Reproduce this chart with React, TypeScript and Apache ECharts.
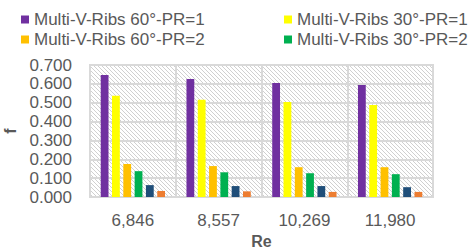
import React, { useEffect, useRef } from "react";
import * as echarts from "echarts";

const categories = ["6,846", "8,557", "10,269", "11,980"];
const seriesNames = [
  "Multi-V-Ribs 60°-PR=1",
  "Multi-V-Ribs 30°-PR=1",
  "Multi-V-Ribs 60°-PR=2",
  "Multi-V-Ribs 30°-PR=2",
  "Series 5",
  "Series 6",
];
const s1 = [0.647, 0.626, 0.605, 0.594];
const s2 = [0.537, 0.516, 0.504, 0.488];
const s3 = [0.175, 0.164, 0.158, 0.158];
const s4 = [0.137, 0.131, 0.126, 0.121];
const s5 = [0.063, 0.058, 0.058, 0.052];
const s6 = [0.032, 0.030, 0.027, 0.027];
const colors = ["#7030a0", "#ffff00", "#ffc000", "#00b050", "#1f4e79", "#ed7d31"];
const yTicks = { min: 0, max: 0.7, interval: 0.1 };

export default function App() {
  const ref = useRef<HTMLDivElement>(null);
  useEffect(() => {
    if (!ref.current) return;
    const chart = echarts.init(ref.current, null, { renderer: "svg" });
    const cv = document.createElement("canvas");
    const s = 4;
    cv.width = s;
    cv.height = s;
    const ctx = cv.getContext("2d")!;
    ctx.fillStyle = "#ffffff";
    ctx.fillRect(0, 0, s, s);
    ctx.strokeStyle = "#d0d0d0";
    ctx.lineWidth = 1;
    ctx.beginPath();
    ctx.moveTo(-1, -1);
    ctx.lineTo(s + 1, s + 1);
    ctx.moveTo(-1, s - 1);
    ctx.lineTo(1, s + 1);
    ctx.moveTo(s - 1, -1);
    ctx.lineTo(s + 1, 1);
    ctx.stroke();
    const pattern = { image: cv.toDataURL(), repeat: "repeat", imageWidth: s, imageHeight: s };
    const font = "Liberation Sans";
    const textColor = "#595959";
    const data = [s1, s2, s3, s4, s5, s6];
    const legendBase = {
      top: 6,
      orient: "vertical",
      itemGap: 3,
      itemWidth: 8,
      itemHeight: 8,
      icon: "rect",
      textStyle: { fontFamily: font, fontSize: 17, color: textColor },
    };
    chart.setOption({
      animation: false,
      textStyle: { fontFamily: font },
      legend: [
        { ...legendBase, left: 16, data: [seriesNames[0], seriesNames[2]] },
        { ...legendBase, left: 279, data: [seriesNames[1], seriesNames[3]] },
      ],
      grid: {
        left: 90,
        right: 39,
        top: 65,
        bottom: 53,
        outerBoundsMode: "none",
        containLabel: false,
        show: true,
        backgroundColor: pattern,
        borderColor: "#d9d9d9",
        borderWidth: 2,
      },
      xAxis: {
        type: "category",
        data: categories,
        name: "Re",
        nameLocation: "middle",
        nameGap: 34,
        nameTextStyle: { fontFamily: font, fontSize: 16, fontWeight: "bold", color: textColor },
        axisLine: { show: true, lineStyle: { color: "#d9d9d9", width: 2 } },
        axisTick: { show: false },
        axisLabel: { margin: 15, fontFamily: font, fontSize: 17, color: textColor },
        splitLine: { show: true, lineStyle: { color: "#d9d9d9", width: 2 } },
      },
      yAxis: {
        type: "value",
        min: yTicks.min,
        max: yTicks.max,
        interval: yTicks.interval,
        name: "f",
        nameLocation: "middle",
        nameRotate: 90,
        nameGap: 72,
        nameTextStyle: { fontFamily: font, fontSize: 16, fontWeight: "bold", color: textColor },
        axisLine: { show: false },
        axisTick: { show: false },
        axisLabel: {
          margin: 18,
          fontFamily: font,
          fontSize: 17,
          color: textColor,
          formatter: (v: number) => v.toFixed(3),
        },
        splitLine: { show: true, lineStyle: { color: "#d9d9d9", width: 2 } },
      },
      series: data.map((d, i) => ({
        name: seriesNames[i],
        type: "bar",
        data: d,
        itemStyle: { color: colors[i] },
        barGap: "45%",
        barCategoryGap: "25%",
      })),
    });
    return () => chart.dispose();
  }, []);
  return <div ref={ref} style={{ width: 472, height: 250, position: "absolute", left: 0, top: 0 }} />;
}
